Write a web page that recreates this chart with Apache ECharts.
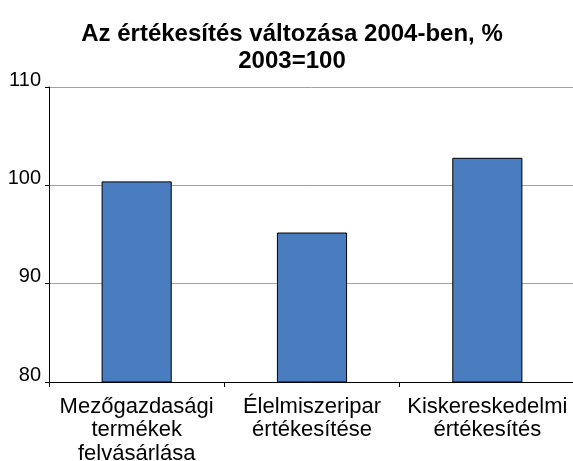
<!DOCTYPE html>
<html>
<head>
<meta charset="utf-8">
<script src="https://cdn.jsdelivr.net/npm/echarts@6/dist/echarts.min.js"></script>
<style>
  html, body { margin: 0; padding: 0; background: #fff; }
  #chart { width: 573px; height: 461px; }
</style>
</head>
<body>
<div id="chart"></div>
<script>
// categories and values
var categories = [
  'Mezőgazdasági\ntermékek\nfelvásárlása',
  'Élelmiszeripar\nértékesítése',
  'Kiskereskedelmi\nértékesítés'
];
var values = [100.4, 95.2, 102.8];
var yTicks = [80, 90, 100, 110];

var myChart = echarts.init(document.getElementById('chart'));

var option = {
  animation: false,
  backgroundColor: '#fff',
  textStyle: { fontFamily: 'Liberation Sans, Arial, sans-serif' },
  title: {
    text: 'Az értékesítés változása 2004-ben, %\n2003=100',
    left: 287,
    top: 16,
    textAlign: 'center',
    textStyle: {
      fontSize: 24,
      fontWeight: 'bold',
      color: '#000',
      lineHeight: 27,
      fontFamily: 'Liberation Sans, Arial, sans-serif'
    }
  },
  grid: {
    left: 49, right: -2, top: 87, bottom: 79,
    containLabel: false,
    outerBoundsMode: 'none'
  },
  xAxis: {
    type: 'category',
    data: categories,
    axisLine: { lineStyle: { color: '#000', width: 1 } },
    axisTick: { show: true, length: 5, lineStyle: { color: '#000' } },
    axisLabel: {
      color: '#000',
      fontSize: 22,
      lineHeight: 23.5,
      margin: 13,
      interval: 0
    }
  },
  yAxis: {
    type: 'value',
    min: yTicks[0],
    max: yTicks[yTicks.length - 1],
    interval: 10,
    axisLine: { show: true, lineStyle: { color: '#000', width: 1 } },
    axisTick: { show: true, length: 4, lineStyle: { color: '#000' } },
    axisLabel: {
      color: '#000',
      fontSize: 20,
      margin: 8,
      verticalAlign: 'bottom',
      lineHeight: 14
    },
    splitLine: { show: true, lineStyle: { color: '#a0a0a0', width: 1 } }
  },
  series: [
    {
      type: 'bar',
      data: values,
      barWidth: '40%',
      itemStyle: {
        color: '#4a7dbf',
        borderColor: '#000',
        borderWidth: 1
      }
    }
  ]
};

myChart.setOption(option);
</script>
</body>
</html>
